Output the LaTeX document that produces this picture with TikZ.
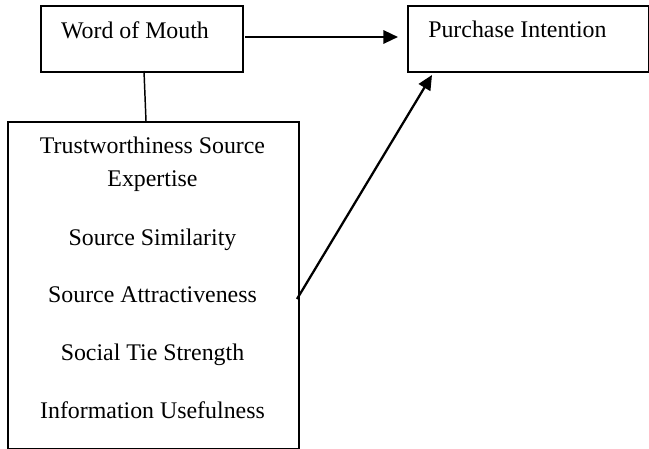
\documentclass[tikz,border=0pt]{standalone}
\usepackage{fontspec}
\setmainfont{Liberation Serif}
\usetikzlibrary{arrows.meta}
\begin{document}
\begin{tikzpicture}[x=0.75pt,y=-0.75pt,
  box/.style={draw,line width=1.4pt,rectangle,inner sep=0pt,anchor=north west},
  txt/.style={font=\fontsize{17.9pt}{20pt}\selectfont,inner sep=0pt,anchor=base},
  arr/.style={line width=1.7pt,-{Triangle[length=11pt,width=10pt]}}]
\useasboundingbox (0,0) rectangle (649,449);
\node[box,minimum width=151.5pt,minimum height=49.5pt] (wom) at (40,5) {};
\node[box,minimum width=180.75pt,minimum height=49.5pt] (pi) at (407,5) {};
\node[box,minimum width=218.25pt,minimum height=245.25pt] (big) at (7,121) {};
\node[txt] (t1) at (135,38.3) {Word of Mouth};
\node[txt,anchor=base west] (t2) at (428,37.3) {Purchase Intention};
\node[txt] (b1) at (152.5,153.3) {Trustworthiness Source};
\node[txt] (b2) at (152.5,186) {Expertise};
\node[txt] (b3) at (152.5,245) {Source Similarity};
\node[txt] (b4) at (152.5,302.7) {Source Attractiveness};
\node[txt] (b5) at (152.5,360) {Social Tie Strength};
\node[txt] (b6) at (152.5,418.3) {Information Usefulness};
\coordinate (a1s) at (245,37);
\coordinate (a1e) at (398,37);
\coordinate (a2s) at (297,299);
\coordinate (a2e) at (432,75);
\coordinate (vs) at (144,71);
\coordinate (ve) at (146,121);
\draw[arr] (a1s) -- (a1e);
\draw[arr] (a2s) -- (a2e);
\draw[line width=1.1pt] (vs) -- (ve);
\end{tikzpicture}
\end{document}
